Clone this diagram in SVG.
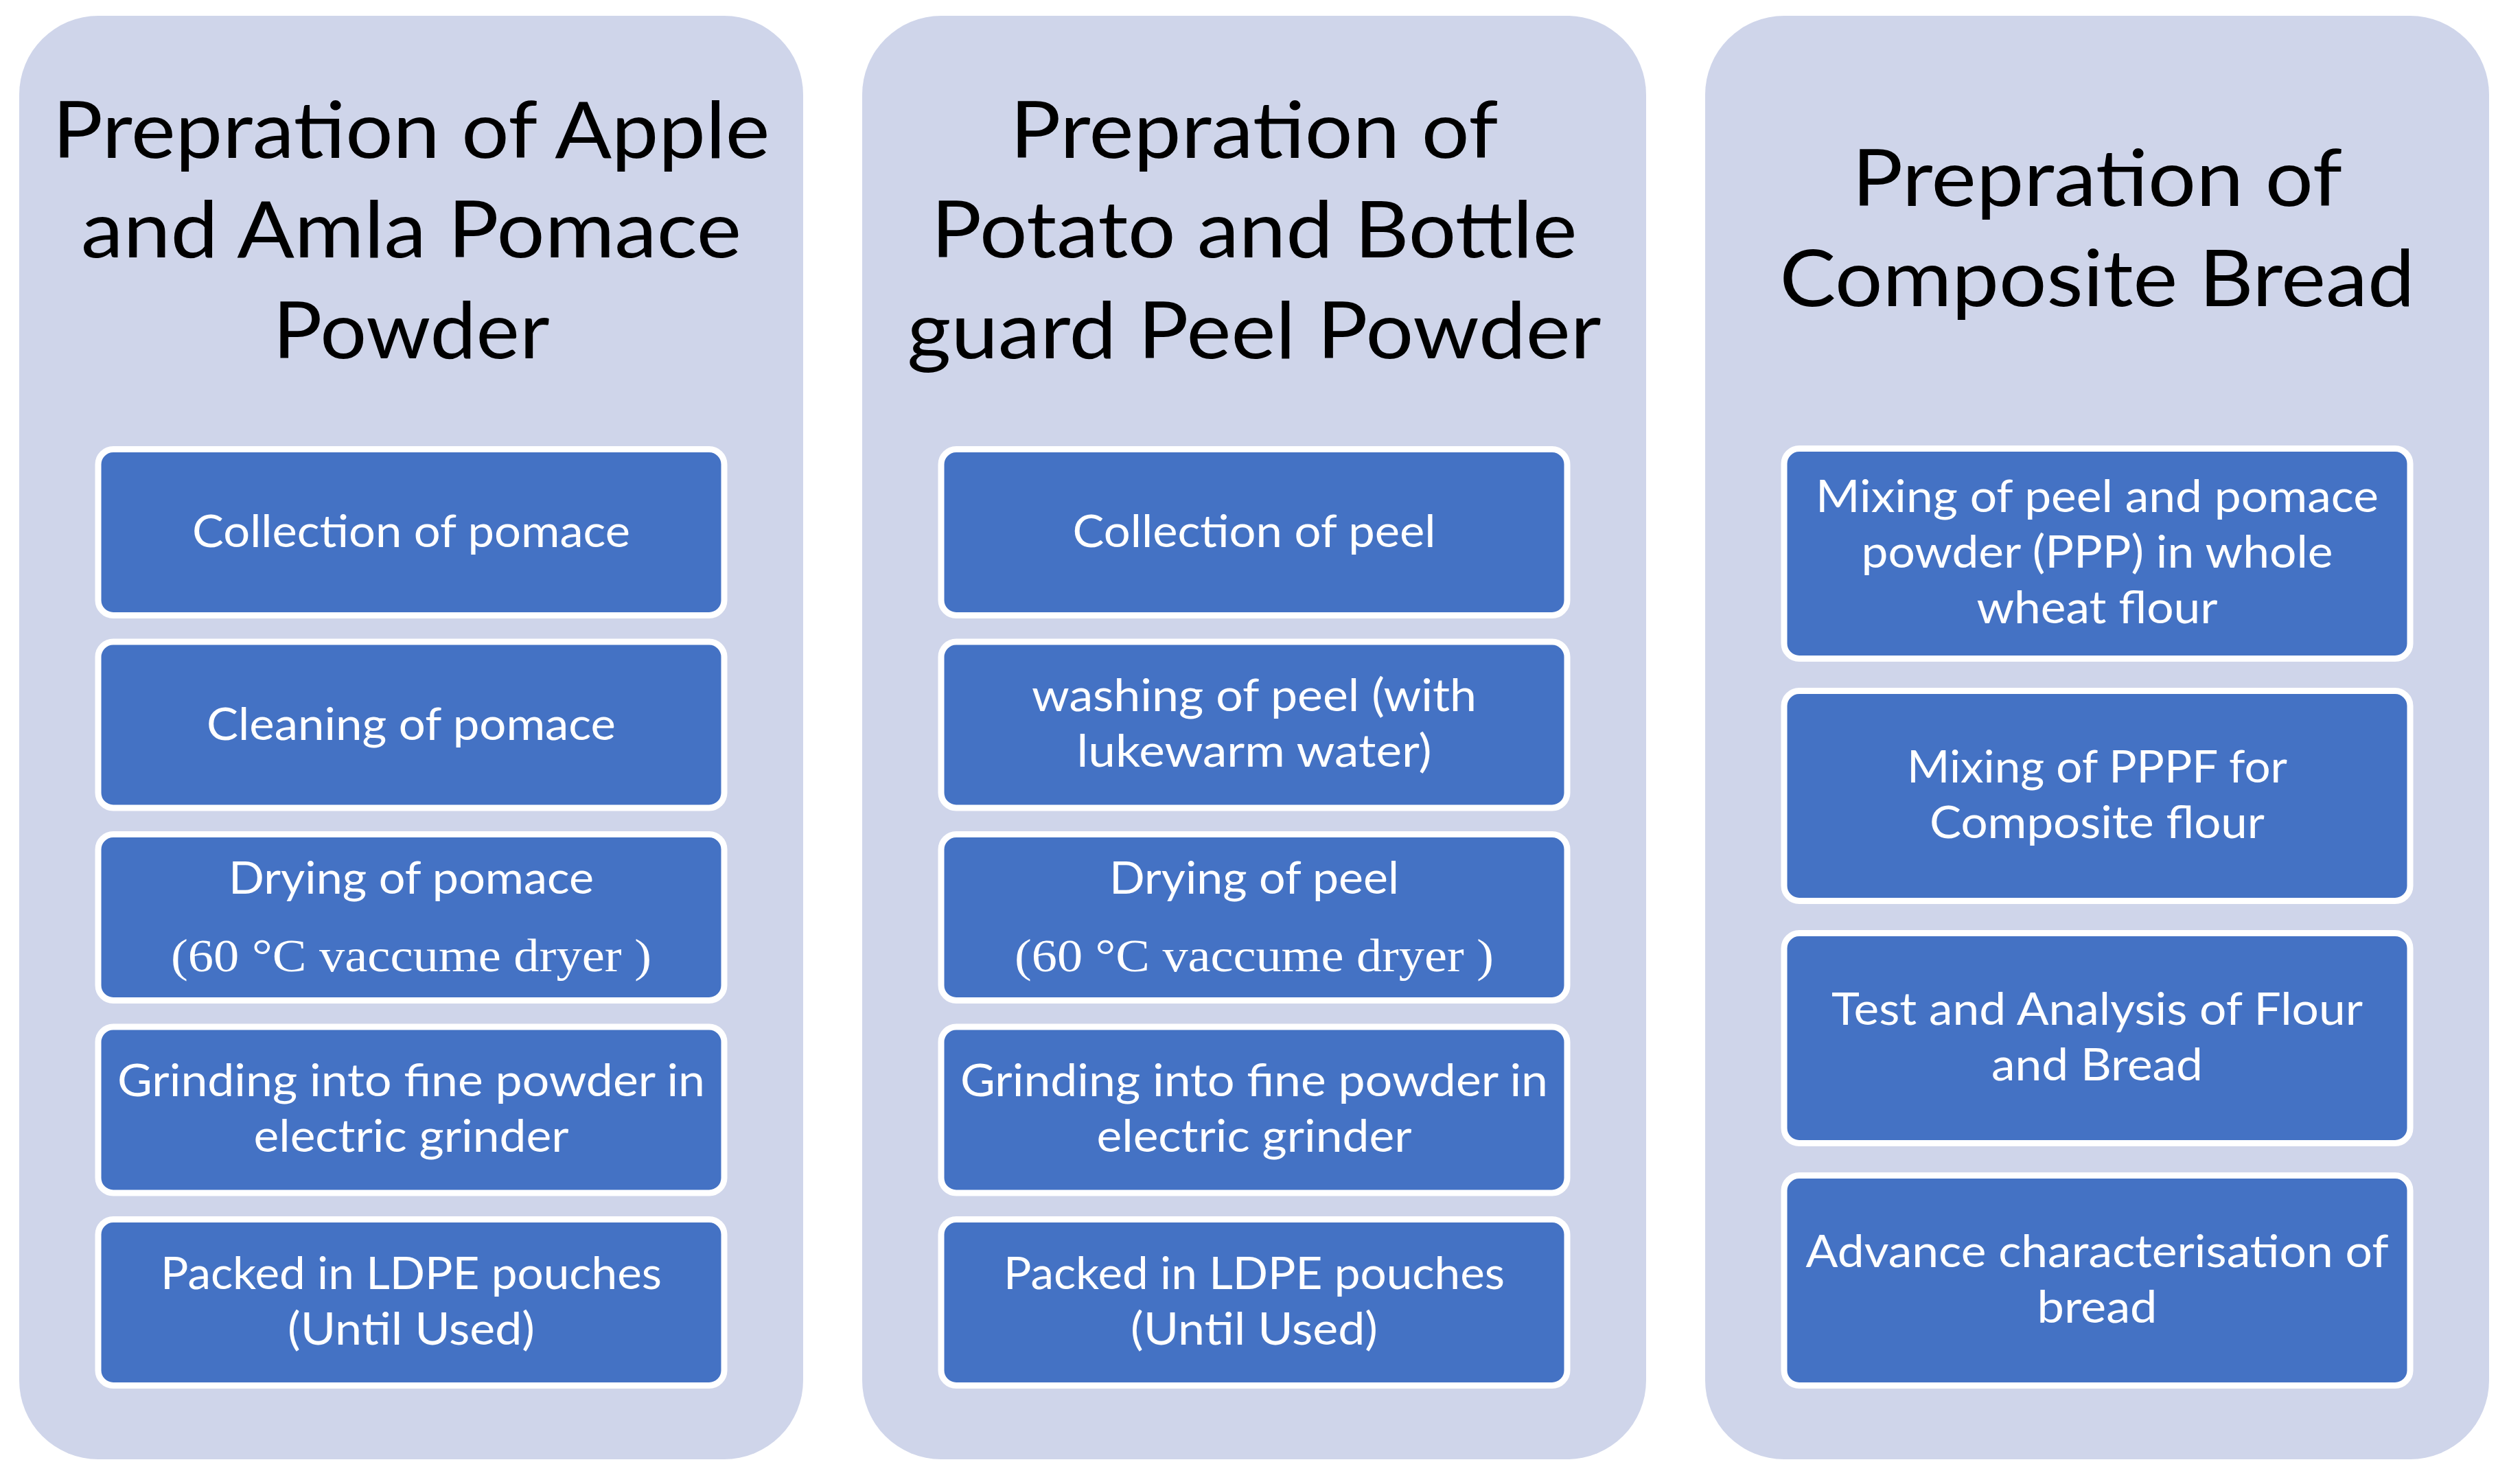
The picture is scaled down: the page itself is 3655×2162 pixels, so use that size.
<svg xmlns="http://www.w3.org/2000/svg" width="3655" height="2162" viewBox="0 0 3655 2162">
<style>
.col{fill:#CFD5EA;}
.box{fill:#4472C4;stroke:#FFFFFF;stroke-width:9;}
.title{font-family:Lato,"Liberation Sans",sans-serif;font-size:115px;fill:#000000;text-anchor:middle;}
.t{font-family:Lato,"Liberation Sans",sans-serif;font-size:65px;fill:#FFFFFF;text-anchor:middle;}
.s{font-family:"Liberation Serif",serif;font-size:68px;fill:#FFFFFF;text-anchor:middle;}
</style>
<rect width="3655" height="2162" fill="#FFFFFF"/>

<g id="column1">
<rect class="col" x="28" y="23" width="1142" height="2103" rx="115" ry="115"/>
<text class="title" x="599" y="230" textLength="1045" lengthAdjust="spacingAndGlyphs">Prepration of Apple</text>
<text class="title" x="599" y="375" textLength="962" lengthAdjust="spacingAndGlyphs">and Amla Pomace</text>
<text class="title" x="599" y="522" textLength="403" lengthAdjust="spacingAndGlyphs">Powder</text>
<g id="c1b1"><rect class="box" x="143" y="654.5" width="912" height="242" rx="22"/>
<text class="t" x="599" y="797" textLength="638" lengthAdjust="spacingAndGlyphs">Collection of pomace</text></g>
<g id="c1b2"><rect class="box" x="143" y="935" width="912" height="242" rx="22"/>
<text class="t" x="599" y="1077.5" textLength="596" lengthAdjust="spacingAndGlyphs">Cleaning of pomace</text></g>
<g id="c1b3"><rect class="box" x="143" y="1215.5" width="912" height="242" rx="22"/>
<text class="t" x="599" y="1302" textLength="532" lengthAdjust="spacingAndGlyphs">Drying of pomace</text>
<text class="s" x="599" y="1415" textLength="700" lengthAdjust="spacingAndGlyphs">(60 °C vaccume dryer )</text></g>
<g id="c1b4"><rect class="box" x="143" y="1496" width="912" height="242" rx="22"/>
<text class="t" x="599" y="1597" textLength="856" lengthAdjust="spacingAndGlyphs">Grinding into fine powder in</text>
<text class="t" x="599" y="1678" textLength="459" lengthAdjust="spacingAndGlyphs">electric grinder</text></g>
<g id="c1b5"><rect class="box" x="143" y="1776.5" width="912" height="242" rx="22"/>
<text class="t" x="599" y="1877.5" textLength="730" lengthAdjust="spacingAndGlyphs">Packed in LDPE pouches</text>
<text class="t" x="599" y="1958.5" textLength="360" lengthAdjust="spacingAndGlyphs">(Until Used)</text></g>
</g>

<g id="column2">
<rect class="col" x="1256" y="23" width="1142" height="2103" rx="115" ry="115"/>
<text class="title" x="1827" y="230" textLength="711" lengthAdjust="spacingAndGlyphs">Prepration of</text>
<text class="title" x="1827" y="375" textLength="941" lengthAdjust="spacingAndGlyphs">Potato and Bottle</text>
<text class="title" x="1827" y="522" textLength="1011" lengthAdjust="spacingAndGlyphs">guard Peel Powder</text>
<g id="c2b1"><rect class="box" x="1371" y="654.5" width="912" height="242" rx="22"/>
<text class="t" x="1827" y="797" textLength="529" lengthAdjust="spacingAndGlyphs">Collection of peel</text></g>
<g id="c2b2"><rect class="box" x="1371" y="935" width="912" height="242" rx="22"/>
<text class="t" x="1827" y="1036" textLength="648" lengthAdjust="spacingAndGlyphs">washing of peel (with</text>
<text class="t" x="1827" y="1117" textLength="517" lengthAdjust="spacingAndGlyphs">lukewarm water)</text></g>
<g id="c2b3"><rect class="box" x="1371" y="1215.5" width="912" height="242" rx="22"/>
<text class="t" x="1827" y="1302" textLength="422" lengthAdjust="spacingAndGlyphs">Drying of peel</text>
<text class="s" x="1827" y="1415" textLength="698" lengthAdjust="spacingAndGlyphs">(60 °C vaccume dryer )</text></g>
<g id="c2b4"><rect class="box" x="1371" y="1496" width="912" height="242" rx="22"/>
<text class="t" x="1827" y="1597" textLength="856" lengthAdjust="spacingAndGlyphs">Grinding into fine powder in</text>
<text class="t" x="1827" y="1678" textLength="459" lengthAdjust="spacingAndGlyphs">electric grinder</text></g>
<g id="c2b5"><rect class="box" x="1371" y="1776.5" width="912" height="242" rx="22"/>
<text class="t" x="1827" y="1877.5" textLength="730" lengthAdjust="spacingAndGlyphs">Packed in LDPE pouches</text>
<text class="t" x="1827" y="1958.5" textLength="360" lengthAdjust="spacingAndGlyphs">(Until Used)</text></g>
</g>

<g id="column3">
<rect class="col" x="2484" y="23" width="1142" height="2103" rx="115" ry="115"/>
<text class="title" x="3055" y="300" textLength="714" lengthAdjust="spacingAndGlyphs">Prepration of</text>
<text class="title" x="3055" y="446" textLength="925" lengthAdjust="spacingAndGlyphs">Composite Bread</text>
<g id="c3b1"><rect class="box" x="2599" y="653.5" width="912" height="306" rx="22"/>
<text class="t" x="3055" y="746" textLength="820" lengthAdjust="spacingAndGlyphs">Mixing of peel and pomace</text>
<text class="t" x="3055" y="827" textLength="687" lengthAdjust="spacingAndGlyphs">powder (PPP) in whole</text>
<text class="t" x="3055" y="908" textLength="351" lengthAdjust="spacingAndGlyphs">wheat flour</text></g>
<g id="c3b2"><rect class="box" x="2599" y="1006.5" width="912" height="306" rx="22"/>
<text class="t" x="3055" y="1139.5" textLength="554" lengthAdjust="spacingAndGlyphs">Mixing of PPPF for</text>
<text class="t" x="3055" y="1220.5" textLength="488" lengthAdjust="spacingAndGlyphs">Composite flour</text></g>
<g id="c3b3"><rect class="box" x="2599" y="1359.5" width="912" height="306" rx="22"/>
<text class="t" x="3055" y="1492.5" textLength="774" lengthAdjust="spacingAndGlyphs">Test and Analysis of Flour</text>
<text class="t" x="3055" y="1573.5" textLength="308" lengthAdjust="spacingAndGlyphs">and Bread</text></g>
<g id="c3b4"><rect class="box" x="2599" y="1712.5" width="912" height="306" rx="22"/>
<text class="t" x="3055" y="1845.5" textLength="849" lengthAdjust="spacingAndGlyphs">Advance characterisation of</text>
<text class="t" x="3055" y="1926.5" textLength="175" lengthAdjust="spacingAndGlyphs">bread</text></g>
</g>

<g id="connectors"></g>
</svg>
